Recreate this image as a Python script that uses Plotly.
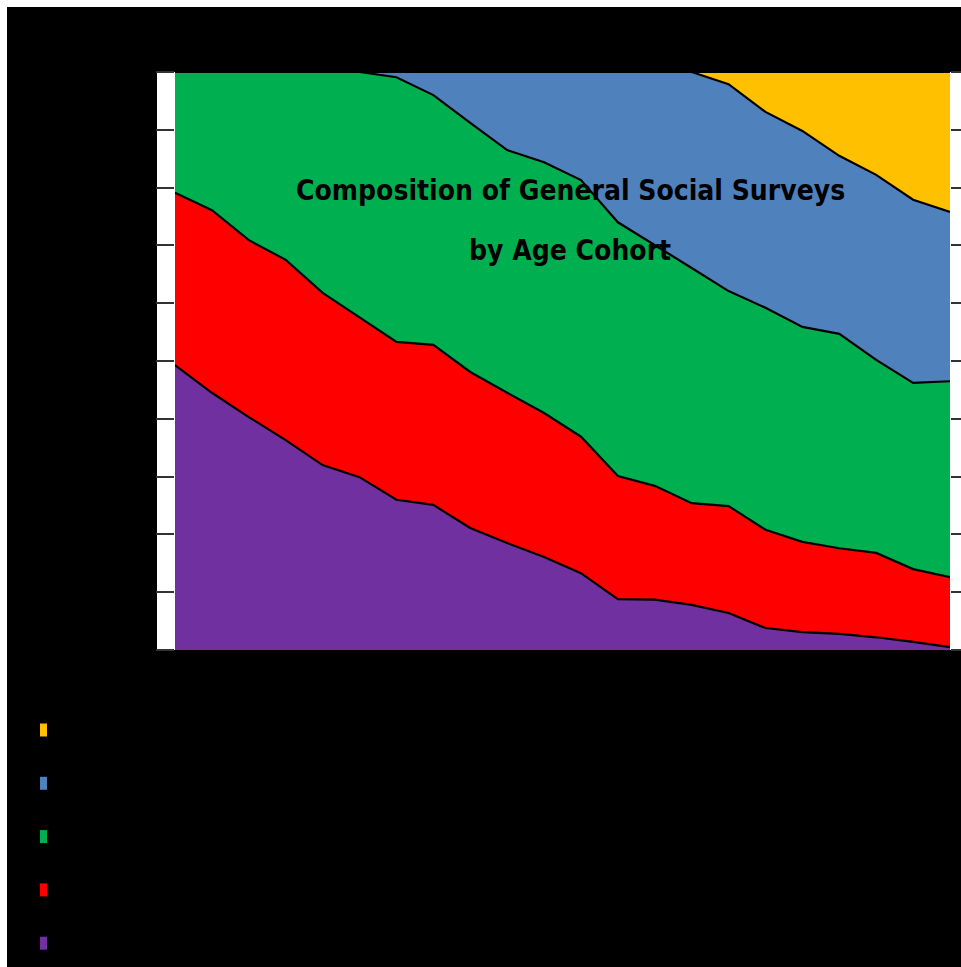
import plotly.graph_objects as go

# Survey years (x axis)
years = [1972, 1974, 1976, 1978, 1980, 1982, 1984, 1986, 1988, 1990, 1992,
         1994, 1996, 1998, 2000, 2002, 2004, 2006, 2008, 2010, 2012, 2014]

# Share of respondents (%) by birth cohort, oldest first
cohorts = ["Born before 1930", "Born 1930-1945", "Born 1946-1964",
           "Born 1965-1980", "Born 1981 or later"]
pre1930 = [49.3, 44.5, 40.3, 36.3, 32.0, 29.9, 26.0, 25.1, 21.1, 18.5, 16.1,
           13.3, 8.8, 8.7, 7.8, 6.4, 3.8, 3.1, 2.8, 2.2, 1.4, 0.5]
b1930_45 = [29.8, 31.6, 30.6, 31.2, 29.8, 27.7, 27.3, 27.7, 27.0, 26.0, 24.9,
            23.6, 21.3, 19.7, 17.6, 18.5, 17.0, 15.6, 14.8, 14.6, 12.6, 12.1]
b1946_64 = [20.9, 23.9, 29.1, 32.5, 38.2, 42.4, 45.8, 43.2, 43.1, 42.0, 43.4,
            44.4, 43.9, 41.7, 40.7, 37.2, 38.4, 37.2, 37.1, 33.4, 32.2, 33.9]
b1965_80 = [0.0, 0.0, 0.0, 0.0, 0.0, 0.0, 0.9, 4.0, 8.8, 13.5, 15.6,
            18.7, 26.0, 29.9, 33.9, 35.8, 33.9, 33.9, 30.8, 32.0, 31.7, 29.3]
b1981on = [0.0, 0.0, 0.0, 0.0, 0.0, 0.0, 0.0, 0.0, 0.0, 0.0, 0.0,
           0.0, 0.0, 0.0, 0.0, 2.1, 6.9, 10.2, 14.5, 17.8, 22.1, 24.2]

series = [pre1930, b1930_45, b1946_64, b1965_80, b1981on]
colors = ["#7030A0", "#FF0000", "#00B050", "#4F81BD", "#FFC000"]

W, H = 961, 967
ML, MR, MT, MB = 175, 11, 72, 317
PW, PH = W - ML - MR, H - MT - MB


def px_x(p):
    return (p - ML) / PW


def px_y(p):
    return (H - MB - p) / PH


fig = go.Figure()
for name, vals, col in zip(cohorts, series, colors):
    fig.add_trace(go.Scatter(
        x=years, y=vals, name=name, mode="lines", stackgroup="one",
        groupnorm="percent", fillcolor=col,
        line=dict(color="#000000", width=2.2), showlegend=False,
    ))

shapes = [
    # dark page behind everything
    dict(type="rect", xref="paper", yref="paper", x0=px_x(7), x1=px_x(980),
         y0=px_y(1000), y1=px_y(7), fillcolor="#000000", line_width=0, layer="below"),
    # light strips carrying the y ticks
    dict(type="rect", xref="paper", yref="paper", x0=px_x(157), x1=0,
         y0=0, y1=1, fillcolor="#FFFFFF", line_width=0, layer="below"),
    dict(type="rect", xref="paper", yref="paper", x0=1, x1=px_x(975),
         y0=0, y1=1, fillcolor="#FFFFFF", line_width=0, layer="below"),
]

# Legend: newest cohort on top
annotations = []
legend_top = 730
legend_step = 53.3
for i, (name, col) in enumerate(zip(cohorts[::-1], colors[::-1])):
    yc = legend_top + i * legend_step
    shapes.append(dict(type="rect", xref="paper", yref="paper",
                       x0=px_x(40), x1=px_x(47), y0=px_y(yc + 6.5), y1=px_y(yc - 6.5),
                       fillcolor=col, line_width=0))
    annotations.append(dict(text=name, xref="paper", yref="paper",
                            x=px_x(56), y=px_y(yc), xanchor="left", yanchor="middle",
                            showarrow=False, font=dict(size=16, color="#000000")))

title_font = dict(family="DejaVu Sans Condensed, Arial Narrow, sans-serif",
                  size=28, color="#000000", weight="bold")
for txt, yc in [("Composition of General Social Surveys", 190), ("by Age Cohort", 250)]:
    annotations.append(dict(text=txt, xref="paper", yref="paper", x=px_x(570), y=px_y(yc),
                            xanchor="center", yanchor="middle", showarrow=False,
                            font=title_font))

fig.update_layout(
    width=W, height=H,
    margin=dict(l=ML, r=MR, t=MT, b=MB, pad=0),
    paper_bgcolor="#FFFFFF", plot_bgcolor="#000000",
    shapes=shapes, annotations=annotations, showlegend=False,
    xaxis=dict(range=[1972, 2014], showgrid=False, zeroline=False, showline=False,
               ticks="", tickfont=dict(color="#000000", size=14)),
    yaxis=dict(range=[0, 100], showgrid=False, zeroline=False, showline=False,
               dtick=10, ticksuffix="%", ticks="outside", ticklen=18, tickwidth=2,
               tickcolor="#333333", mirror="ticks",
               tickfont=dict(color="#000000", size=14)),
)

fig.write_html("out.html")
